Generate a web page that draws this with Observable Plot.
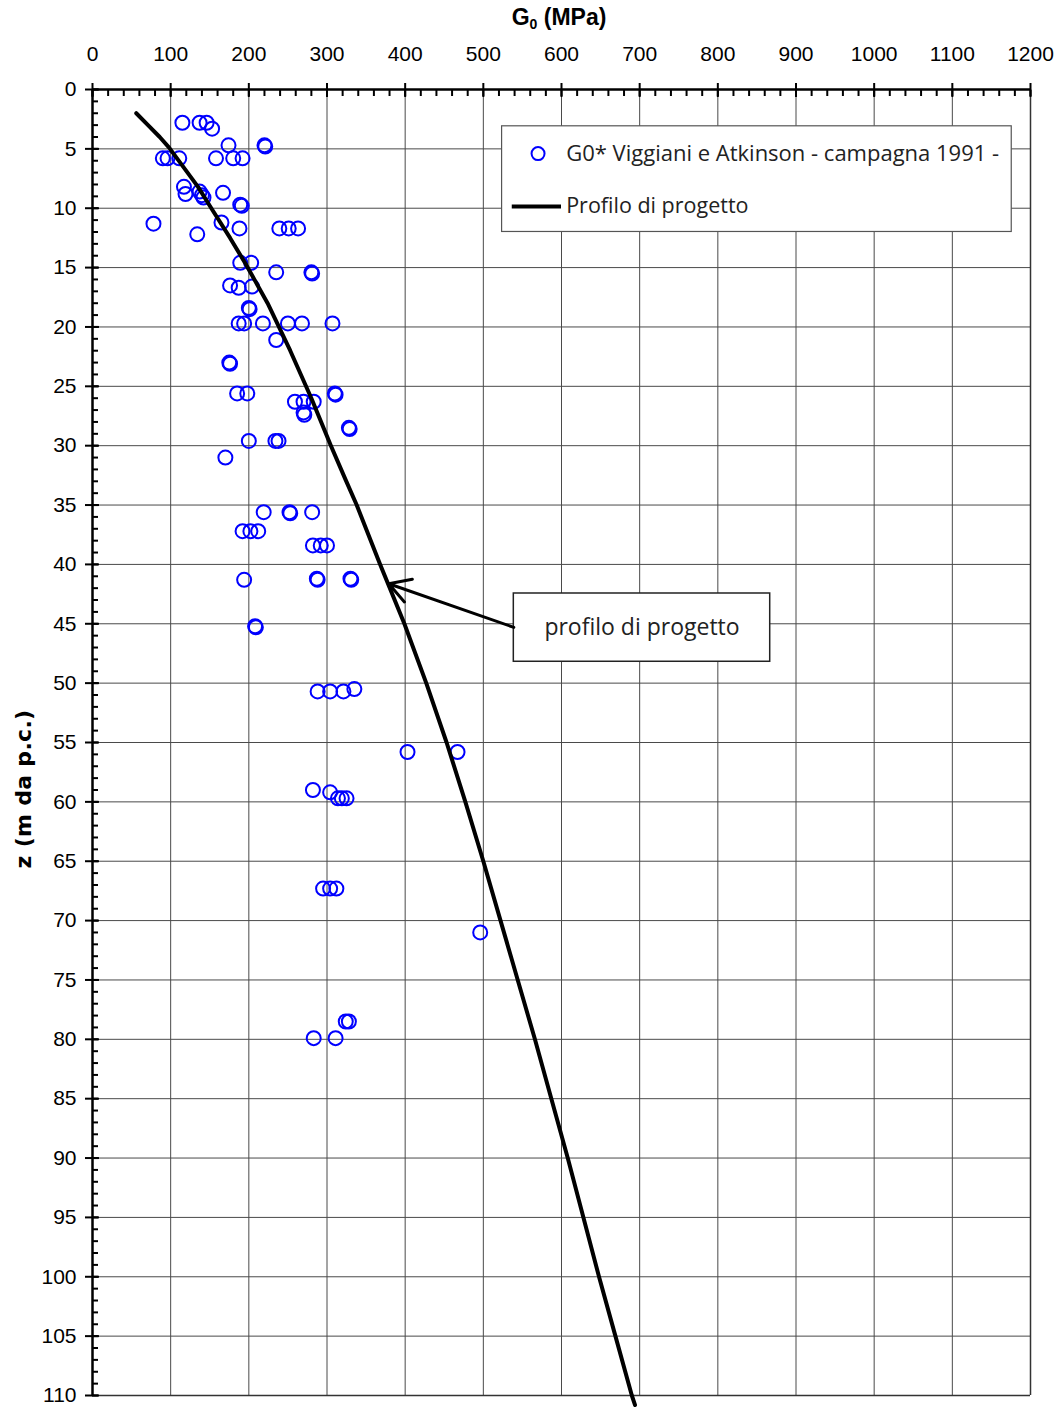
<!DOCTYPE html>
<html><head><meta charset="utf-8">
<script src="https://cdn.jsdelivr.net/npm/d3@7"></script>
<script src="https://cdn.jsdelivr.net/npm/@observablehq/plot@0.6"></script>
<style>
body{margin:0;background:#fff}
#chart{position:relative;width:1063px;height:1407px;overflow:hidden}
.title{position:absolute;top:4px;left:0;width:1118px;text-align:center;font:bold 23px "Liberation Sans",Arial,sans-serif;color:#000}
.title sub{font-size:14px;vertical-align:-4px}
.ylab{position:absolute;left:23px;top:789px;transform:translate(-50%,-50%) rotate(-90deg);white-space:nowrap;font:bold 22px "DejaVu Sans",sans-serif;letter-spacing:0.3px;color:#000}
</style>
</head><body><div id="chart"><div class="title">G<sub>0</sub> (MPa)</div><div class="ylab">z (m da p.c.)</div></div>
<script>
// measured G0 (MPa) and depth z (m) — campagna 1991
const g0Values = [115,137,146,153,174,220,221,
  90,96,111,158,180,192,
  117,119,137,140,142,167,189,191,
  78,134,165,188,239,251,263,
  189,203,235,280,281,
  176,187,204,200,201,
  187,194,218,250,268,307,
  235,
  175,176,185,198,310,311,
  259,270,283,270,271,
  328,329,200,234,238,170,
  219,252,253,281,
  192,202,212,
  282,292,300,
  194,287,288,330,331,
  208,209,
  288,304,321,335,
  403,467,
  282,304,314,319,325,
  295,304,312,
  496,
  324,328,283,311];
const depthValues = [2.8,2.8,2.8,3.3,4.7,4.7,4.8,
  5.8,5.8,5.8,5.8,5.8,5.8,
  8.2,8.8,8.6,8.9,9.1,8.7,9.7,9.8,
  11.3,12.2,11.2,11.7,11.7,11.7,11.7,
  14.6,14.6,15.4,15.4,15.5,
  16.5,16.7,16.6,18.4,18.5,
  19.7,19.7,19.7,19.7,19.7,19.7,
  21.1,
  23.0,23.1,25.6,25.6,25.6,25.7,
  26.3,26.3,26.3,27.2,27.4,
  28.5,28.6,29.6,29.6,29.6,31.0,
  35.6,35.6,35.7,35.6,
  37.2,37.2,37.2,
  38.4,38.4,38.4,
  41.3,41.2,41.3,41.2,41.3,
  45.2,45.3,
  50.7,50.7,50.7,50.5,
  55.8,55.8,
  59.0,59.2,59.7,59.7,59.7,
  67.3,67.3,67.3,
  71.0,
  78.5,78.5,79.9,79.9];
// design profile ("Profilo di progetto")
const profileG = [56,71,86,98,135,152,176,196,224,253,280,305,324,338,368,399,427,453,477,500,522,544,566,587,608,648,669,690,694];
const profileZ = [2,3,4,4.9,8.2,10,12.5,14.7,18,22,26,30,32.9,35,40,45,50,55,60,65,70,75,80,85,90,100,105,110,110.8];
// ticks
const xTicks = d3.range(0, 1201, 100);
const xMinor = d3.range(0, 1201, 20);
const yTicks = d3.range(0, 111, 5);
const yMinor = d3.range(0, 111, 1);
// texts
const seriesLabel = "G0* Viggiani e Atkinson - campagna 1991 -";
const profileLabel = "Profilo di progetto";
const noteLabel = "profilo di progetto";

const points = g0Values.map((g, i) => ({g, z: depthValues[i]}));
const profile = profileG.map((g, i) => ({g, z: profileZ[i]}));

// legend / annotation placement (in data units)
const legendBox = {x1: 524, x2: 1176, y1: 3.1, y2: 12.0};
const noteBox = {x1: 539, x2: 867, y1: 42.45, y2: 48.2};
const noteArrow = {x1: 539, y1: 45.3, x2: 379, y2: 41.63};

const gridStroke = "#4a4a4a";
const legendFont = "'Open Sans', Lato, sans-serif";
const fmt = d3.format("d");

const chart = Plot.plot({
  width: 1063, height: 1407,
  marginLeft: 92, marginRight: 33, marginTop: 89, marginBottom: 12,
  style: {fontFamily: "'Liberation Sans', Arial, sans-serif", background: "white", overflow: "visible"},
  x: {domain: [0, 1200]},
  y: {domain: [0, 110], reverse: true},
  marks: [
    Plot.gridX(xTicks, {stroke: gridStroke, strokeOpacity: 1, strokeWidth: 1}),
    Plot.gridY(yTicks, {stroke: gridStroke, strokeOpacity: 1, strokeWidth: 1}),
    Plot.ruleX([1200], {stroke: "#333", strokeWidth: 1.5}),
    Plot.ruleY([110], {stroke: "#333", strokeWidth: 1.5}),
    Plot.ruleY([0], {stroke: "#000", strokeWidth: 2.5}),
    Plot.ruleX([0], {stroke: "#000", strokeWidth: 2.5}),
    Plot.axisX(xTicks, {anchor: "top", tickSize: 7, tickPadding: 22, fontSize: 21, label: null, strokeWidth: 2, tickFormat: fmt}),
    Plot.axisX(xTicks, {anchor: "top", tickSize: -7, tickFormat: () => "", label: null, strokeWidth: 2}),
    Plot.axisX(xMinor, {anchor: "top", tickSize: -6, tickFormat: () => "", label: null, strokeWidth: 2}),
    Plot.axisY(yTicks, {anchor: "left", tickSize: 7, tickPadding: 9, fontSize: 21, label: null, strokeWidth: 2, tickFormat: fmt}),
    Plot.axisY(yTicks, {anchor: "left", tickSize: -7, tickFormat: () => "", label: null, strokeWidth: 2}),
    Plot.axisY(yMinor, {anchor: "left", tickSize: -6, tickFormat: () => "", label: null, strokeWidth: 2}),
    Plot.dot(points, {x: "g", y: "z", r: 7, stroke: "#0000ff", strokeWidth: 2, fill: "none"}),
    Plot.line(profile, {x: "g", y: "z", stroke: "#000", strokeWidth: 4, curve: "linear", strokeLinejoin: "round"}),
    // legend
    Plot.rect([legendBox], {x1: "x1", x2: "x2", y1: "y1", y2: "y2", fill: "white", stroke: "#555", strokeWidth: 1.2}),
    Plot.dot([{g: 570, z: 5.4}], {x: "g", y: "z", r: 6.5, stroke: "#0000ff", strokeWidth: 2, fill: "none"}),
    Plot.ruleY([{z: 9.85, a: 537, b: 600}], {y: "z", x1: "a", x2: "b", stroke: "#000", strokeWidth: 4}),
    Plot.text([seriesLabel], {x: 606, y: 5.4, text: d => d, textAnchor: "start", fontSize: 22, fontFamily: legendFont, fill: "#222"}),
    Plot.text([profileLabel], {x: 606, y: 9.85, text: d => d, textAnchor: "start", fontSize: 21.5, fontFamily: legendFont, fill: "#222"}),
    // annotation
    Plot.rect([noteBox], {x1: "x1", x2: "x2", y1: "y1", y2: "y2", fill: "white", stroke: "#222", strokeWidth: 1.5}),
    Plot.text([noteLabel], {x: (noteBox.x1 + noteBox.x2) / 2, y: (noteBox.y1 + noteBox.y2) / 2, text: d => d, fontSize: 23, fontFamily: legendFont, fill: "#222"}),
    Plot.arrow([noteArrow], {x1: "x1", y1: "y1", x2: "x2", y2: "y2", stroke: "#000", strokeWidth: 3, headLength: 12, bend: 0})
  ]
});
document.getElementById("chart").appendChild(chart);
</script>
</body></html>
